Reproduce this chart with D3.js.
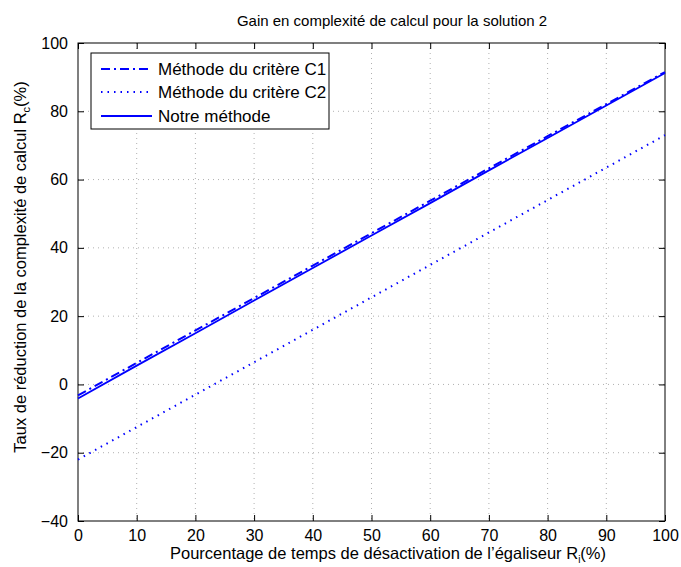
<!DOCTYPE html>
<html><head><meta charset="utf-8">
<script src="https://cdn.jsdelivr.net/npm/d3@7"></script>
<style>body{margin:0;background:#fff;}svg{display:block;font-family:"Liberation Sans",Arial,sans-serif;}</style>
</head><body>
<svg id="c" width="681" height="567"></svg>
<script>
const xValues = [0,10,20,30,40,50,60,70,80,90,100];
const critereC1 = [-3.2,6.3,15.8,25.3,34.8,44.3,53.8,63.3,72.7,82.1,91.5];
const critereC2 = [-22,-12.5,-3,6.5,16,25.5,35,44.5,54,63.5,73];
const notreMethode = [-4.1,5.5,15,24.6,34.1,43.6,53.1,62.7,72.2,81.7,91.2];
const xTicks = [0,10,20,30,40,50,60,70,80,90,100];
const yTicks = [-40,-20,0,20,40,60,80,100];
const seriesNames = ["Méthode du critère C1","Méthode du critère C2","Notre méthode"];

const svg = d3.select("#c");
const L=78,R=665,T=43,B=521;
const x = d3.scaleLinear().domain([0,100]).range([L,R]);
const y = d3.scaleLinear().domain([-40,100]).range([B,T]);

// grid
const g = svg.append("g");
xTicks.slice(1,-1).forEach(v=>g.append("line").attr("x1",x(v)).attr("x2",x(v)).attr("y1",T).attr("y2",B)
  .attr("stroke","#b0b0b0").attr("stroke-width",1).attr("stroke-dasharray","1,4"));
yTicks.slice(1,-1).forEach(v=>g.append("line").attr("x1",L).attr("x2",R).attr("y1",y(v)).attr("y2",y(v))
  .attr("stroke","#b0b0b0").attr("stroke-width",1).attr("stroke-dasharray","1,4"));

// axes
const tickLen=6;
const ax = svg.append("g").attr("transform",`translate(0,${B})`).call(d3.axisBottom(x).tickValues(xTicks).tickSize(-tickLen).tickPadding(9).tickFormat(d3.format("d")));
const axT = svg.append("g").attr("transform",`translate(0,${T})`).call(d3.axisTop(x).tickValues(xTicks).tickSize(-tickLen).tickFormat(""));
const ay = svg.append("g").attr("transform",`translate(${L},0)`).call(d3.axisLeft(y).tickValues(yTicks).tickSize(-tickLen).tickPadding(10).tickFormat(d=>d<0?"\u2212"+(-d):d));
const ayR = svg.append("g").attr("transform",`translate(${R},0)`).call(d3.axisRight(y).tickValues(yTicks).tickSize(-tickLen).tickFormat(""));
[ax,axT,ay,ayR].forEach(a=>{a.select(".domain").remove();a.selectAll("line").attr("stroke","#000");
  a.selectAll("text").attr("font-size",16).attr("fill","#000").attr("font-family","Liberation Sans, Arial, sans-serif");});
svg.append("rect").attr("x",L).attr("y",T).attr("width",R-L).attr("height",B-T).attr("fill","none").attr("stroke","#000").attr("stroke-width",1);

// lines
const line = d3.line().x((d,i)=>x(xValues[i])).y(d=>y(d));
const styles = [
  {data:critereC1, dash:"9,4,2,4", w:2},
  {data:critereC2, dash:"1.5,5", w:2},
  {data:notreMethode, dash:null, w:1.8}
];
styles.forEach(s=>{
  svg.append("path").datum(s.data).attr("d",line).attr("fill","none").attr("stroke","#0000ff")
    .attr("stroke-width",s.w).attr("stroke-dasharray",s.dash);
});

// legend
const lg = svg.append("g");
lg.append("rect").attr("x",91).attr("y",53).attr("width",238).attr("height",76).attr("fill","#fff").attr("stroke","#000").attr("stroke-width",1);
const ly=[69,92,116];
styles.forEach((s,i)=>{
  lg.append("line").attr("x1",101).attr("x2",152).attr("y1",ly[i]).attr("y2",ly[i]).attr("stroke","#0000ff")
    .attr("stroke-width",s.w).attr("stroke-dasharray",s.dash);
  lg.append("text").attr("x",158).attr("y",ly[i]+6).attr("font-size",17).text(seriesNames[i]);
});

// title & labels
svg.append("text").attr("x",392).attr("y",26).attr("text-anchor","middle").attr("font-size",15).text("Gain en complexité de calcul pour la solution 2");
const xl = svg.append("text").attr("x",388).attr("y",559).attr("text-anchor","middle").attr("font-size",16.5);
xl.append("tspan").text("Pourcentage de temps de désactivation de l’égaliseur R");
xl.append("tspan").attr("font-size",10).attr("dy",4).text("i");
xl.append("tspan").attr("dy",-4).text("(%)");
const yl = svg.append("text").attr("transform","translate(26,267) rotate(-90)").attr("text-anchor","middle").attr("font-size",16.5);
yl.append("tspan").text("Taux de réduction de la complexité de calcul R");
yl.append("tspan").attr("font-size",11).attr("dy",4).text("c");
yl.append("tspan").attr("dy",-4).text("(%)");
</script>
</body></html>
